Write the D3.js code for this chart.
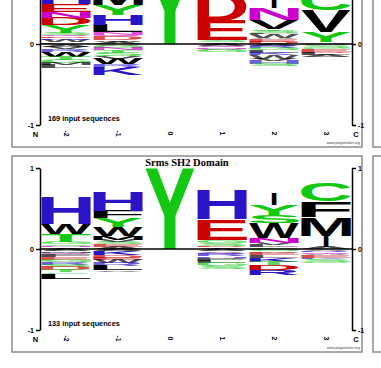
<!DOCTYPE html>
<html>
<head>
<meta charset="utf-8">
<script src="https://cdn.jsdelivr.net/npm/d3@7"></script>
<style>
  body { margin: 0; background: #fff; }
  svg { display: block; }
</style>
</head>
<body>
<div id="chart"></div>
<script>
// positions around the central residue
var positions = ["-2", "-1", "0", "1", "2", "3"];

// upper logo (169 sequences), letters listed from the zero line outward
var upperAbove = [
  [["L", .02], ["W", .035], ["R", .02], ["D", .02], ["Q", .02], ["S", .025], ["Y", .09], ["D", .085], ["N", .08], ["E", .1], ["H", .25]],
  [["A", .025], ["W", .02], ["D", .045], ["Q", .025], ["N", .03], ["L", .09], ["H", .12], ["Y", .13], ["M", .2]],
  [["Y", 1.0]],
  [["A", .02], ["S", .025], ["E", .245], ["D", .34]],
  [["D", .03], ["E", .03], ["A", .02], ["W", .04], ["F", .02], ["S", .025], ["T", .02], ["V", .11], ["N", .15], ["I", .19]],
  [["A", .02], ["Y", .13], ["V", .27], ["C", .22]]
];
var upperBelow = [
  [["A", .035], ["V", .03], ["R", .03], ["W", .06], ["T", .04], ["G", .04], ["M", .025], ["L", .04]],
  [["A", .02], ["G", .03], ["N", .03], ["T", .03], ["S", .04], ["V", .03], ["W", .07], ["R", .03], ["K", .1]],
  [],
  [["A", .025], ["Q", .02], ["N", .015], ["V", .02], ["G", .025]],
  [["A", .025], ["R", .025], ["G", .025], ["L", .03], ["K", .035], ["W", .04], ["V", .025], ["H", .04], ["S", .03]],
  [["Q", .02], ["S", .025], ["G", .02], ["E", .03], ["D", .02], ["L", .025], ["A", .025]]
];

// lower logo (Srms SH2 Domain, 133 sequences)
var lowerAbove = [
  [["V", .02], ["N", .02], ["S", .02], ["G", .03], ["T", .09], ["W", .13], ["H", .33]],
  [["A", .025], ["E", .035], ["S", .025], ["V", .03], ["M", .05], ["W", .11], ["Y", .11], ["F", .09], ["H", .24]],
  [["Y", 1.0]],
  [["A", .02], ["D", .02], ["S", .035], ["G", .035], ["E", .255], ["H", .37]],
  [["A", .02], ["L", .025], ["V", .03], ["N", .06], ["W", .19], ["S", .09], ["Y", .13], ["I", .14]],
  [["A", .025], ["I", .14], ["M", .23], ["F", .19], ["C", .22]]
];
var lowerBelow = [
  [["A", .03], ["M", .02], ["Q", .02], ["F", .035], ["E", .03], ["G", .025], ["R", .035], ["S", .025], ["D", .04], ["T", .03], ["C", .02], ["L", .06]],
  [["A", .025], ["K", .05], ["D", .03], ["E", .025], ["W", .04], ["R", .04], ["L", .055], ["V", .02]],
  [],
  [["A", .025], ["V", .02], ["Q", .02], ["R", .025], ["H", .02], ["P", .035], ["L", .025], ["G", .04], ["S", .035]],
  [["G", .025], ["A", .02], ["E", .03], ["L", .035], ["K", .05], ["T", .04], ["D", .06], ["R", .055]],
  [["V", .02], ["R", .02], ["Q", .02], ["A", .02], ["E", .025], ["K", .02], ["S", .03], ["G", .02]]
];

var upperCount = "169 input sequences";
var lowerCount = "133 input sequences";
var lowerTitle = "Srms SH2 Domain";
var yTicks = [-1, 0, 1];

// residue colours (pLogo chemistry scheme)
var colors = {};
"GSTYC".split("").forEach(c => colors[c] = "#12c812");
"NQ".split("").forEach(c => colors[c] = "#cc00cc");
"KRH".split("").forEach(c => colors[c] = "#2a14c8");
"DE".split("").forEach(c => colors[c] = "#cc0000");
"AVLIPWFM".split("").forEach(c => colors[c] = "#000000");

var svg = d3.select("#chart").append("svg")
  .attr("width", 381)
  .attr("height", 368);

var x = d3.scaleBand().domain(positions).range([40, 352]);

// tight glyph bounds, measured on a canvas
var ctx = document.createElement("canvas").getContext("2d");
ctx.font = "bold 100px 'Liberation Sans'";
function glyphBox(ch) {
  var m = ctx.measureText(ch);
  return { l: -m.actualBoundingBoxLeft, r: m.actualBoundingBoxRight,
           t: -m.actualBoundingBoxAscent, b: m.actualBoundingBoxDescent };
}

function drawLetter(g, ch, x0, y0, w, h) {
  if (h <= 0) return;
  if (ch == "I") { x0 += w * 0.45; w = w * 0.1; }
  var bb = glyphBox(ch);
  var sx = w / (bb.r - bb.l), sy = h / (bb.b - bb.t);
  g.append("text")
    .attr("transform", `translate(${x0},${y0}) scale(${sx},${sy}) translate(${-bb.l},${-bb.t})`)
    .attr("font-family", "Liberation Sans")
    .attr("font-weight", "bold")
    .attr("font-size", 100)
    .attr("fill", colors[ch])
    .attr("fill-opacity", h < 4 ? 0.7 : 1)   // hairline letters come out pale in the original
    .text(ch);
}

function drawPanel(top, zero, above, below, count, title) {
  var y = d3.scaleLinear().domain([-1, 1]).range([zero + 81, zero - 81]);
  var g = svg.append("g");

  // frame
  g.append("rect")
    .attr("x", 12).attr("y", top)
    .attr("width", 350).attr("height", 196)
    .attr("fill", "none").attr("stroke", "#8c8c8c").attr("stroke-width", 1.5);
  // edge of the next panel on the right
  g.append("rect")
    .attr("x", 373).attr("y", top)
    .attr("width", 40).attr("height", 196)
    .attr("fill", "none").attr("stroke", "#8c8c8c").attr("stroke-width", 1.5);

  // letter stacks
  positions.forEach(function(p, i) {
    var x0 = x(p) + 1, w = x.bandwidth() - 2;
    var acc = 0;
    above[i].forEach(function(d) {
      drawLetter(g, d[0], x0, y(acc + d[1]), w, y(acc) - y(acc + d[1]));
      acc += d[1];
    });
    acc = 0;
    below[i].forEach(function(d) {
      drawLetter(g, d[0], x0, y(-acc), w, y(-acc - d[1]) - y(-acc));
      acc += d[1];
    });
  });

  // zero line
  g.append("line")
    .attr("x1", x.range()[0]).attr("x2", x.range()[1])
    .attr("y1", y(0)).attr("y2", y(0))
    .attr("stroke", "#000").attr("stroke-width", 1.5);

  var left = g.append("g")
    .attr("transform", "translate(40,0)")
    .call(d3.axisLeft(y).tickValues(yTicks).tickSize(4).tickSizeOuter(0).tickFormat(d => String(d)));
  var right = g.append("g")
    .attr("transform", "translate(352,0)")
    .call(d3.axisRight(y).tickValues(yTicks).tickSize(4).tickSizeOuter(0).tickFormat(d => String(d)));
  [left, right].forEach(function(a) {
    a.select(".domain").attr("stroke-width", 1.5);
    a.selectAll(".tick line").attr("stroke-width", 1.5);
    a.selectAll("text")
      .attr("font-family", "Liberation Sans").attr("font-weight", "bold")
      .attr("font-size", 7).attr("fill", "#000");
    a.selectAll(".tick text").attr("dx", a === left ? "1" : "-1");
  });

  // position labels
  g.selectAll(".pos").data(positions).enter().append("text")
    .attr("transform", d => `translate(${x(d) + x.bandwidth() / 2},${top + 182.5}) rotate(90)`)
    .attr("text-anchor", "middle")
    .attr("dy", "0.35em")
    .attr("font-family", "Liberation Sans").attr("font-weight", "bold")
    .attr("font-size", 7)
    .text(d => d);

  g.append("text").attr("x", 35.5).attr("y", top + 186)
    .attr("text-anchor", "middle")
    .attr("font-family", "Liberation Sans").attr("font-weight", "bold").attr("font-size", 7.5)
    .text("N");
  g.append("text").attr("x", 356).attr("y", top + 186)
    .attr("text-anchor", "middle")
    .attr("font-family", "Liberation Sans").attr("font-weight", "bold").attr("font-size", 7.5)
    .text("C");

  g.append("text").attr("x", 48).attr("y", top + 169.5)
    .attr("font-family", "Liberation Sans").attr("font-weight", "bold").attr("font-size", 7.3)
    .text(count);

  g.append("text").attr("x", 360).attr("y", top + 193)
    .attr("text-anchor", "end")
    .attr("font-family", "Liberation Sans").attr("font-size", 3.6).attr("fill", "#444")
    .text("www.plogomaker.org");

  if (title) {
    g.append("text").attr("x", 187).attr("y", top + 9.5)
      .attr("text-anchor", "middle")
      .attr("font-family", "Liberation Serif").attr("font-weight", "bold").attr("font-size", 10.5)
      .text(title);
  }
}

drawPanel(-49, 44, upperAbove, upperBelow, upperCount, null);
drawPanel(156, 249, lowerAbove, lowerBelow, lowerCount, lowerTitle);
</script>
</body>
</html>
